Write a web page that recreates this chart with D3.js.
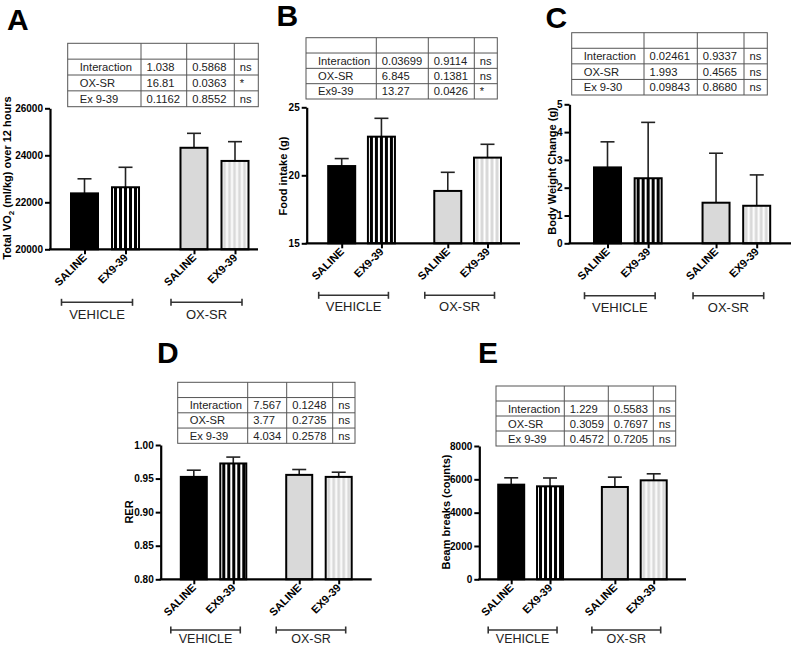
<!DOCTYPE html>
<html><head><meta charset="utf-8">
<script src="https://cdn.jsdelivr.net/npm/d3@7"></script>
<style>body{margin:0;background:#fff} svg{display:block;font-family:Arial,"Liberation Sans",sans-serif}</style>
</head><body><svg id="c" width="791" height="647"></svg>
<script>
// ---------- data ----------
const categories = ["SALINE", "EX9-39", "SALINE", "EX9-39"];
const groups = ["VEHICLE", "OX-SR"];

const vo2Mean = [22380, 22640, 24320, 23760];
const vo2Sem  = [620, 850, 615, 820];
const foodMean = [20.68, 22.84, 18.85, 21.30];
const foodSem  = [0.55, 1.35, 1.37, 0.98];
const bwMean = [2.73, 2.34, 1.46, 1.35];
const bwSem  = [0.92, 2.01, 1.78, 1.11];
const rerMean = [0.9525, 0.9725, 0.9555, 0.9525];
const rerSem  = [0.0100, 0.0095, 0.0080, 0.0070];
const beamMean = [5680, 5580, 5540, 5940];
const beamSem  = [410, 500, 590, 390];

const vo2Ticks = [20000, 22000, 24000, 26000];
const foodTicks = [15, 20, 25];
const bwTicks = [0, 1, 2, 3, 4, 5];
const rerTicks = [0.80, 0.85, 0.90, 0.95, 1.00];
const beamTicks = [0, 2000, 4000, 6000, 8000];

const tableA = [["Interaction", "1.038", "0.5868", "ns"], ["OX-SR", "16.81", "0.0363", "*"], ["Ex 9-39", "0.1162", "0.8552", "ns"]];
const tableB = [["Interaction", "0.03699", "0.9114", "ns"], ["OX-SR", "6.845", "0.1381", "ns"], ["Ex9-39", "13.27", "0.0426", "*"]];
const tableC = [["Interaction", "0.02461", "0.9337", "ns"], ["OX-SR", "1.993", "0.4565", "ns"], ["Ex 9-30", "0.09843", "0.8680", "ns"]];
const tableD = [["Interaction", "7.567", "0.1248", "ns"], ["OX-SR", "3.77", "0.2735", "ns"], ["Ex 9-39", "4.034", "0.2578", "ns"]];
const tableE = [["Interaction", "1.229", "0.5583", "ns"], ["OX-SR", "0.3059", "0.7697", "ns"], ["Ex 9-39", "0.4572", "0.7205", "ns"]];

// ---------- layout ----------
const slots = [0, 1, 2.67, 3.67];
const panels = [
  {id: "A", lx: 7, ly: 30, mean: vo2Mean, sem: vo2Sem, ticks: vo2Ticks, fmt: d3.format("d"), dom: [20000, 26000],
   ax: 50, y0: 249.3, yT: 108.3, xEnd: 258, c1: 84.5, c4: 235, bw: 27,
   table: tableA, cols: [67.7, 141, 186.7, 234.3, 258.3], tt: 43.3, tb: 106.7,
   title: ["Total VO", "2", " (ml/kg) over 12 hours"], tx: 10.5, ty: 178, bOff: 53, gOff: 16.5, gFs: 13},
  {id: "B", lx: 276.5, ly: 26, mean: foodMean, sem: foodSem, ticks: foodTicks, fmt: d3.format("d"), dom: [15, 25],
   ax: 306.7, y0: 243.3, yT: 107.3, xEnd: 520, c1: 341.7, c4: 487.5, bw: 27,
   table: tableB, cols: [306, 376.3, 428.3, 474.3, 497.3], tt: 37.7, tb: 99,
   title: ["Food intake (g)"], tx: 287, ty: 176, bOff: 52, gOff: 16, gFs: 13},
  {id: "C", lx: 545.5, ly: 28.3, mean: bwMean, sem: bwSem, ticks: bwTicks, fmt: d3.format("d"), dom: [0, 5],
   ax: 569.5, y0: 243.3, yT: 104.3, xEnd: 791, c1: 607.5, c4: 756.7, bw: 27,
   table: tableC, cols: [571.7, 644, 697.3, 744, 767.3], tt: 32.7, tb: 95,
   title: ["Body Weight Change (g)"], tx: 556, ty: 171, bOff: 52.4, gOff: 16, gFs: 13},
  {id: "D", lx: 157, ly: 363.3, mean: rerMean, sem: rerSem, ticks: rerTicks, fmt: d3.format(".2f"), dom: [0.8, 1.0],
   ax: 160.7, y0: 579.3, yT: 445, xEnd: 371.7, c1: 193.8, c4: 338.7, bw: 26,
   table: tableD, cols: [177.7, 247.7, 286.7, 332.7, 355], tt: 382.3, tb: 443.3,
   title: ["RER"], tx: 133, ty: 512, bOff: 50.7, gOff: 13, gFs: 12.5},
  {id: "E", lx: 478, ly: 363.3, mean: beamMean, sem: beamSem, ticks: beamTicks, fmt: d3.format("d"), dom: [0, 8000],
   ax: 479.3, y0: 579.3, yT: 446, xEnd: 686, c1: 511.2, c4: 653.7, bw: 26,
   table: tableE, cols: [496, 564.3, 608.3, 653.3, 675.7], tt: 386, tb: 446,
   title: ["Beam breaks (counts)"], tx: 450, ty: 512, bOff: 50.7, gOff: 13, gFs: 12.5}
];

const svg = d3.select("#c");
const defs = svg.append("defs");
const GRAY = "#d9d9d9";

panels.forEach(p => {
  const g = svg.append("g");
  const y = d3.scaleLinear().domain(p.dom).range([p.y0, p.yT]);
  const x = d3.scaleLinear().domain([slots[0], slots[3]]).range([p.c1, p.c4]);

  // panel letter
  g.append("text").attr("x", p.lx).attr("y", p.ly).attr("font-size", 30).attr("font-weight", "bold")
    .attr("fill", "#000").text(p.id);

  // stats table
  const rh = (p.tb - p.tt) / 4;
  const tg = g.append("g");
  tg.append("rect").attr("x", p.cols[0]).attr("y", p.tt).attr("width", p.cols[4] - p.cols[0])
    .attr("height", p.tb - p.tt).attr("fill", "none").attr("stroke", "#555").attr("stroke-width", 1);
  for (let i = 1; i < 4; i++) {
    tg.append("line").attr("x1", p.cols[0]).attr("x2", p.cols[4]).attr("y1", p.tt + rh * i).attr("y2", p.tt + rh * i)
      .attr("stroke", "#555").attr("stroke-width", 1);
    tg.append("line").attr("x1", p.cols[i]).attr("x2", p.cols[i]).attr("y1", p.tt).attr("y2", p.tb)
      .attr("stroke", "#555").attr("stroke-width", 1);
  }
  p.table.forEach((row, r) => {
    row.forEach((cell, c) => {
      tg.append("text").attr("x", p.cols[c] + (c === 0 ? 12 : 5.5)).attr("y", p.tt + rh * (r + 1) + rh / 2 + 4)
        .attr("font-size", 11.2).attr("fill", "#222").text(cell);
    });
  });

  // patterns
  p.mean.forEach((m, i) => {
    const left = x(slots[i]) - p.bw / 2;
    if (i === 1) {
      const pat = defs.append("pattern").attr("id", p.id + "p1").attr("patternUnits", "userSpaceOnUse")
        .attr("width", 5).attr("height", 10).attr("patternTransform", `translate(${left + 2},0)`);
      pat.append("rect").attr("width", 5).attr("height", 10).attr("fill", "#fff");
      pat.append("rect").attr("width", 3).attr("height", 10).attr("fill", "#000");
    } else if (i === 3) {
      const pat = defs.append("pattern").attr("id", p.id + "p3").attr("patternUnits", "userSpaceOnUse")
        .attr("width", 5).attr("height", 10).attr("patternTransform", `translate(${left + 2},0)`);
      pat.append("rect").attr("width", 5).attr("height", 10).attr("fill", GRAY);
      pat.append("rect").attr("x", 2.5).attr("width", 2).attr("height", 10).attr("fill", "#fff");
    }
  });
  const fills = ["#000", `url(#${p.id}p1)`, GRAY, `url(#${p.id}p3)`];

  // error bars (upward only)
  const eg = g.append("g");
  p.mean.forEach((m, i) => {
    const cx = x(slots[i]);
    eg.append("line").attr("x1", cx).attr("x2", cx).attr("y1", y(m)).attr("y2", y(m + p.sem[i]))
      .attr("stroke", "#222").attr("stroke-width", 1.6);
    eg.append("line").attr("x1", cx - 7).attr("x2", cx + 7).attr("y1", y(m + p.sem[i])).attr("y2", y(m + p.sem[i]))
      .attr("stroke", "#222").attr("stroke-width", 1.6);
  });

  // bars
  g.append("g").selectAll("rect").data(p.mean).join("rect")
    .attr("x", (d, i) => x(slots[i]) - p.bw / 2).attr("width", p.bw)
    .attr("y", d => y(d)).attr("height", d => p.y0 - y(d))
    .attr("fill", (d, i) => fills[i]).attr("stroke", "#000").attr("stroke-width", 2);

  // y axis
  const yAxis = d3.axisLeft(y).tickValues(p.ticks).tickFormat(p.fmt).tickSize(5).tickSizeOuter(0).tickPadding(2);
  const ya = g.append("g").attr("transform", `translate(${p.ax},0)`).call(yAxis);
  ya.select(".domain").attr("stroke", "#000").attr("stroke-width", 2.2);
  ya.selectAll(".tick line").attr("stroke", "#000").attr("stroke-width", 2);
  ya.selectAll(".tick text").attr("font-size", 10).attr("font-weight", "bold").attr("fill", "#000")
    .attr("font-family", "Arial, 'Liberation Sans', sans-serif");

  // x axis line + ticks
  g.append("line").attr("x1", p.ax - 1).attr("x2", p.xEnd).attr("y1", p.y0).attr("y2", p.y0)
    .attr("stroke", "#000").attr("stroke-width", 2.2);
  const xAxis = d3.axisBottom(x).tickValues(slots).tickFormat("").tickSize(5).tickSizeOuter(0);
  const xa = g.append("g").attr("transform", `translate(0,${p.y0})`).call(xAxis);
  xa.select(".domain").remove();
  xa.selectAll(".tick line").attr("stroke", "#000").attr("stroke-width", 2);

  // category labels
  categories.forEach((c, i) => {
    const cx = x(slots[i]);
    g.append("text").attr("transform", `translate(${cx + 3},${p.y0 + 9}) rotate(-45)`)
      .attr("text-anchor", "end").attr("font-size", 11).attr("font-weight", "bold").attr("fill", "#000").text(c);
  });

  // group brackets
  groups.forEach((gr, k) => {
    const a = x(slots[k * 2]) - 23, b = x(slots[k * 2 + 1]) + 7, by = p.y0 + p.bOff;
    g.append("line").attr("x1", a).attr("x2", b).attr("y1", by).attr("y2", by).attr("stroke", "#333").attr("stroke-width", 1.6);
    [a, b].forEach(e => g.append("line").attr("x1", e).attr("x2", e).attr("y1", by - 3.5).attr("y2", by + 3.5)
      .attr("stroke", "#333").attr("stroke-width", 1.6));
    g.append("text").attr("x", (a + b) / 2).attr("y", by + p.gOff).attr("text-anchor", "middle")
      .attr("font-size", p.gFs).attr("fill", "#222").text(gr);
  });

  // y title
  const t = g.append("text").attr("transform", `translate(${p.tx},${p.ty}) rotate(-90)`)
    .attr("text-anchor", "middle").attr("font-size", 11).attr("font-weight", "bold").attr("fill", "#000");
  if (p.title.length === 3) {
    t.append("tspan").text(p.title[0]);
    t.append("tspan").attr("dy", 3).attr("font-size", 8).text(p.title[1]);
    t.append("tspan").attr("dy", -3).text(p.title[2]);
  } else {
    t.text(p.title[0]);
  }
});
</script></body></html>
